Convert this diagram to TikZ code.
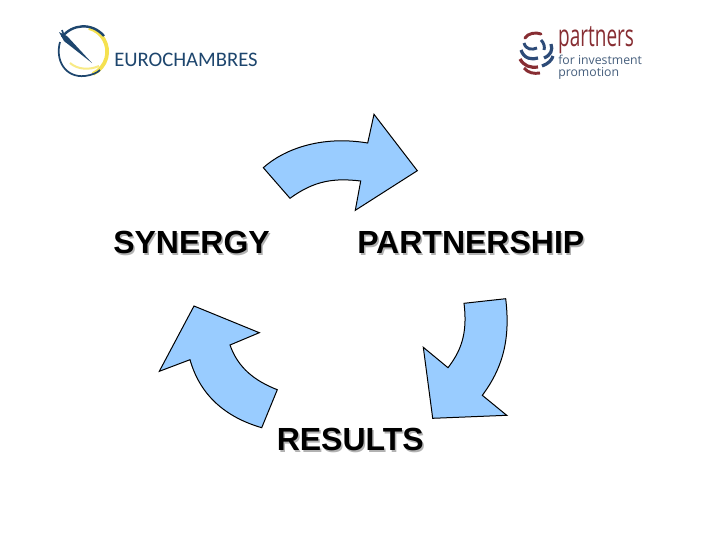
\documentclass[tikz,border=0pt]{standalone}
\usepackage{fontspec}
\setmainfont{Liberation Sans}
\newfontfamily\logofont{Carlito}
\newfontfamily\partnerfont{Open Sans}
\definecolor{arrowblue}{RGB}{153,204,255}
\definecolor{euroblue}{RGB}{30,70,110}
\definecolor{euroyellow}{RGB}{245,225,80}
\definecolor{parred}{RGB}{135,45,50}
\definecolor{parblue}{RGB}{45,75,120}
\definecolor{parslate}{RGB}{70,95,125}
\tikzset{x=0.75pt,y=-0.75pt,
  flowarrow/.style={draw=black,line width=0.75pt,fill=arrowblue,line join=miter},
  bigword/.style={font=\bfseries\fontsize{24}{26}\selectfont,inner sep=0pt,anchor=base west},
  shadowword/.style={bigword,text=black!30}}
\begin{document}
\begin{tikzpicture}
\useasboundingbox (0,0) rectangle (720,540);
\fill[white] (0,0) rectangle (720,540);
% top arrow
\draw[flowarrow] (263.3,167.7) .. controls (283,150) and (320,135) .. (367.7,143) -- (374,114.3) -- (417.3,170.7) -- (355.3,210.3) -- (360.7,181) .. controls (335,178) and (315,180) .. (290,198.3) -- cycle;
% right arrow
\draw[flowarrow] (464,303.3) -- (505.7,298.7) .. controls (510,335) and (505,365) .. (482.3,395.3) -- (506.7,415.3) -- (432.7,418.3) -- (423.3,347.3) -- (448,367.7) .. controls (460,352) and (468,335) .. cycle;
% left arrow
\draw[flowarrow] (194,306) -- (259.3,332.7) -- (230,345) .. controls (238,368) and (255,381) .. (277.3,389.7) -- (261.7,427.7) .. controls (225,417) and (200,395) .. (190,359.7) -- (159.3,371.3) -- cycle;
% labels
\node[shadowword] (s1) at (114.5,255) {SYNERGY};
\node[bigword] (s) at (113,253.5) {SYNERGY};
\node[shadowword] (p1) at (358.5,255) {PARTNERSHIP};
\node[bigword] (p) at (357,253.5) {PARTNERSHIP};
\node[shadowword] (r1) at (278,452) {RESULTS};
\node[bigword] (r) at (276.5,450.5) {RESULTS};
% Eurochambres logo
\draw[euroyellow,line width=2.8pt] (89,28) arc (-75:65:24.5);
\draw[euroyellow!70,line width=1.5pt] (70,63) .. controls (78,70) and (90,70) .. (99,66);
\draw[euroblue,line width=1.8pt] (62,37) .. controls (72,24) and (92,22) .. (104,36);
\draw[euroblue,line width=1.3pt] (60,42) .. controls (55,60) and (65,78) .. (85,76) .. controls (92,75) and (97,73) .. (100,70);
\fill[euroblue] (59,32) -- (67,36) -- (92,63) -- (64,41) -- cycle;
\draw[euroblue,line width=1.2pt] (62,30) -- (66,42);
\node[font=\logofont\fontsize{15.5}{17}\selectfont,text=euroblue,inner sep=0pt,anchor=base west] (eu) at (114,66) {EUROCHAMBRES};
% Partners logo
\draw[parred,line width=2.2pt,line cap=round] (525,38) .. controls (528,33) and (536,32) .. (541,34);
\draw[parblue,line width=2.2pt] (524,43) .. controls (526,50) and (532,50) .. (537,48);
\draw[parblue,line width=2.2pt] (541,40) .. controls (544,43) and (545,47) .. (544,50);
\draw[parblue,line width=2.4pt] (521,50) .. controls (524,59) and (532,60) .. (538,58);
\draw[parblue,line width=2.4pt] (551,44) .. controls (553,50) and (551,55) .. (544,58);
\draw[parred,line width=2.4pt] (520,59) .. controls (524,66) and (530,68) .. (538,67);
\draw[parblue,line width=2.4pt] (542,66) .. controls (548,64) and (552,60) .. (553,56);
\draw[parred,line width=2.2pt] (524,68) .. controls (528,73) and (534,74) .. (540,73);
\node[font=\partnerfont\fontsize{19}{20}\selectfont,text=parred,inner sep=0pt,anchor=base west,xscale=0.75,yscale=1.2] (pa) at (558,46) {partners};
\node[font=\partnerfont\fontsize{9.2}{10}\selectfont,text=parslate,inner sep=0pt,anchor=base west] (pb) at (558,64) {for investment};
\node[font=\partnerfont\fontsize{9.2}{10}\selectfont,text=parslate,inner sep=0pt,anchor=base west] (pc) at (558,76) {promotion};
\end{tikzpicture}
\end{document}
